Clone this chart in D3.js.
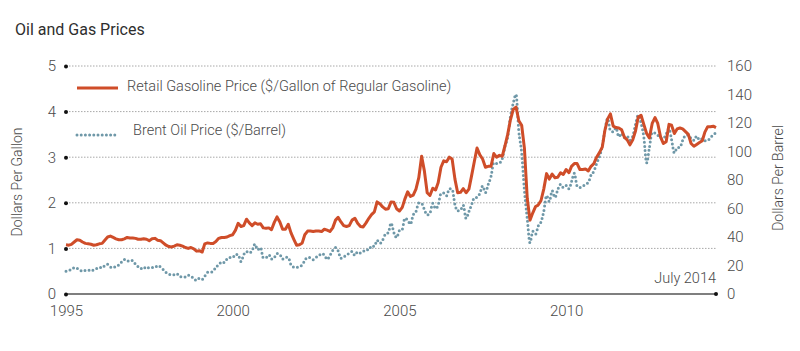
<!DOCTYPE html>
<html>
<head>
<meta charset="utf-8">
<script src="https://cdn.jsdelivr.net/npm/d3@7"></script>
<style>
  body { margin: 0; background: #fff; }
  svg text { font-family: Roboto, "Liberation Sans", sans-serif; fill: #4a4a4a; font-weight: 300; }
</style>
</head>
<body>
<div id="chart"></div>
<script>
// Monthly values, Jan 1995 .. Jul 2014
const gasPrice = [
  1.08,1.07,1.09,1.14,1.19,1.18,1.14,1.11,1.10,1.09,1.07,1.08,
  1.10,1.11,1.18,1.25,1.27,1.24,1.21,1.19,1.19,1.21,1.24,1.23,
  1.23,1.22,1.20,1.20,1.21,1.20,1.17,1.21,1.22,1.18,1.17,1.12,
  1.07,1.04,1.03,1.05,1.08,1.07,1.05,1.02,1.00,1.02,0.99,0.94,
  0.95,0.92,1.10,1.12,1.11,1.11,1.15,1.22,1.24,1.24,1.25,1.28,
  1.30,1.40,1.55,1.48,1.50,1.64,1.56,1.50,1.56,1.53,1.54,1.45,
  1.44,1.45,1.41,1.57,1.69,1.58,1.42,1.42,1.53,1.34,1.20,1.07,
  1.08,1.12,1.30,1.38,1.38,1.37,1.38,1.38,1.37,1.42,1.40,1.37,
  1.45,1.62,1.68,1.58,1.50,1.48,1.50,1.62,1.66,1.55,1.48,1.47,
  1.56,1.66,1.74,1.80,2.02,1.98,1.91,1.86,1.87,2.02,2.01,1.87,
  1.82,1.90,2.08,2.24,2.14,2.17,2.30,2.55,3.02,2.70,2.22,2.16,
  2.32,2.28,2.44,2.78,2.92,2.90,3.00,2.96,2.52,2.22,2.23,2.31,
  2.22,2.30,2.58,2.90,3.20,3.05,2.96,2.78,2.80,2.80,3.08,3.00,
  3.04,3.02,3.24,3.50,3.82,4.05,4.10,3.80,3.70,3.20,2.10,1.62,
  1.78,1.92,1.95,2.05,2.30,2.64,2.52,2.63,2.55,2.56,2.66,2.62,
  2.73,2.66,2.80,2.86,2.86,2.73,2.73,2.74,2.70,2.80,2.86,3.00,
  3.10,3.22,3.58,3.84,3.95,3.68,3.65,3.64,3.60,3.44,3.38,3.27,
  3.38,3.58,3.88,3.92,3.72,3.52,3.42,3.74,3.87,3.74,3.44,3.30,
  3.34,3.72,3.70,3.52,3.62,3.64,3.62,3.56,3.50,3.30,3.24,3.28,
  3.32,3.36,3.55,3.67,3.67,3.68,3.65
];

const brentPrice = [
  16.0,16.8,16.9,18.5,18.0,17.0,15.9,16.5,16.8,16.0,17.0,17.9,
  18.8,18.2,20.0,20.8,19.0,18.4,19.6,20.4,22.5,24.2,23.0,23.8,
  23.4,20.8,19.2,17.8,19.0,17.6,18.6,18.6,18.6,20.0,19.0,17.2,
  15.2,14.0,13.4,13.6,14.2,12.1,12.0,11.9,13.2,12.6,10.8,9.4,
  11.0,10.3,12.5,15.2,15.3,15.8,19.0,20.3,22.5,22.0,24.6,25.6,
  25.5,27.8,27.5,22.8,27.6,29.8,28.7,30.5,35.0,31.0,32.6,25.5,
  25.6,27.5,24.5,25.6,28.5,27.8,24.6,25.8,25.6,20.5,18.9,18.6,
  19.4,20.3,23.7,25.7,25.4,24.1,25.7,26.6,28.4,27.5,24.3,27.0,
  30.5,32.6,30.3,25.0,25.8,27.6,28.4,29.8,27.1,29.6,28.8,29.8,
  31.2,30.9,33.8,33.4,37.6,35.5,37.9,42.1,43.0,49.8,43.1,39.6,
  44.5,45.5,53.1,51.9,49.0,55.6,57.9,63.9,63.5,59.3,55.5,56.8,
  63.6,59.9,62.3,70.4,70.8,68.9,73.9,73.6,62.8,58.4,58.9,62.3,
  53.0,57.8,62.4,67.5,67.9,70.6,75.8,71.2,77.0,82.5,92.1,91.5,
  91.9,94.8,103.3,110.2,124.6,134.0,140.0,114.0,99.0,72.8,53.0,36.0,
  44.0,42.0,47.7,50.6,58.0,69.1,64.9,72.5,67.7,73.2,77.0,74.7,
  76.2,73.8,78.8,84.8,75.9,74.8,75.6,77.1,78.2,83.5,86.1,91.5,
  96.5,103.7,114.6,123.3,114.5,113.9,116.7,110.4,112.8,109.6,110.8,107.9,
  110.7,119.3,125.5,119.8,110.3,92.0,102.6,113.4,113.0,111.5,109.5,109.2,
  112.3,116.1,108.5,99.0,102.6,102.9,107.9,111.3,111.6,109.1,107.8,110.8,
  108.1,108.9,107.5,107.8,109.7,111.9,113.0
];

const gallonTicks = [0, 1, 2, 3, 4, 5];
const barrelTicks = [0, 20, 40, 60, 80, 100, 120, 140, 160];
const yearTicks = [1995, 2000, 2005, 2010];
const legendLabels = [
  'Retail Gasoline Price ($/Gallon of Regular Gasoline)',
  'Brent Oil Price ($/Barrel)'
];

const months = d3.timeMonth.range(new Date(1995, 0, 1), new Date(2014, 7, 1));

const width = 800;
const height = 351;
const margin = { top: 66, right: 84, bottom: 57, left: 66 };
const innerW = width - margin.left - margin.right;
const innerH = height - margin.top - margin.bottom;

const gasColor = '#cf4d29';
const oilColor = '#6f98a8';

const svg = d3.select('#chart')
  .append('svg')
  .attr('width', width)
  .attr('height', height);

// Title
svg.append('text')
  .attr('x', 15)
  .attr('y', 35)
  .style('font-size', '16px')
  .style('font-weight', 400)
  .style('fill', '#2e2e2e')
  .text('Oil and Gas Prices');

const g = svg.append('g')
  .attr('transform', `translate(${margin.left},${margin.top})`);

// Scales
const x = d3.scaleTime()
  .domain([new Date(1995, 0, 1), new Date(2014, 6, 1)])
  .range([0, innerW]);

const yGal = d3.scaleLinear().domain([0, 5]).range([innerH, 0]);
const yBbl = d3.scaleLinear().domain([0, 160]).range([innerH, 0]);

// Gridlines
g.selectAll('.grid')
  .data(gallonTicks.filter(d => d > 0))
  .enter().append('line')
  .attr('x1', 0)
  .attr('x2', innerW + 1)
  .attr('y1', d => yGal(d))
  .attr('y2', d => yGal(d))
  .attr('stroke', '#a8a8a8')
  .attr('stroke-width', 1)
  .attr('stroke-dasharray', '1.5,1.5');

// Baseline
g.append('line')
  .attr('x1', 0)
  .attr('x2', innerW)
  .attr('y1', innerH)
  .attr('y2', innerH)
  .attr('stroke', '#555')
  .attr('stroke-width', 1.5);

g.append('circle')
  .attr('cx', innerW)
  .attr('cy', innerH)
  .attr('r', 2)
  .attr('fill', '#111');

const styleAxisText = sel => sel.selectAll('text')
  .style('font-size', '15px')
  .style('font-family', 'Roboto, sans-serif')
  .style('font-weight', 300)
  .attr('fill', '#4a4a4a');

// Left axis
const leftAxis = g.append('g')
  .call(d3.axisLeft(yGal).tickValues(gallonTicks).tickFormat(d3.format('d')).tickSize(0).tickPadding(10));
leftAxis.select('.domain').remove();
styleAxisText(leftAxis);
leftAxis.selectAll('.tick').append('circle')
  .attr('r', 2)
  .attr('fill', '#111');

// Right axis
const rightAxis = g.append('g')
  .attr('transform', `translate(${innerW},0)`)
  .call(d3.axisRight(yBbl).tickValues(barrelTicks).tickFormat(d3.format('d')).tickSize(0).tickPadding(11));
rightAxis.select('.domain').remove();
styleAxisText(rightAxis);

// Bottom axis
const bottomAxis = g.append('g')
  .attr('transform', `translate(0,${innerH})`)
  .call(d3.axisBottom(x)
    .tickValues(yearTicks.map(yr => new Date(yr, 0, 1)))
    .tickFormat(d3.timeFormat('%Y'))
    .tickSize(0)
    .tickPadding(11));
bottomAxis.select('.domain').remove();
styleAxisText(bottomAxis);

// Axis titles
svg.append('text')
  .attr('transform', `translate(22,${margin.top + innerH / 2 + 2}) rotate(-90)`)
  .attr('text-anchor', 'middle')
  .style('font-size', '14px')
  .text('Dollars Per Gallon');

svg.append('text')
  .attr('transform', `translate(783,${margin.top + innerH / 2 - 2}) rotate(-90)`)
  .attr('text-anchor', 'middle')
  .style('font-size', '14px')
  .text('Dollars Per Barrel');

// Date note
g.append('text')
  .attr('x', innerW)
  .attr('y', innerH - 11)
  .attr('text-anchor', 'end')
  .style('font-size', '14.5px')
  .text('July 2014');

// Lines
const oilLine = d3.line()
  .x((d, i) => x(months[i]))
  .y(d => yBbl(d))
  .curve(d3.curveMonotoneX);

const gasLine = d3.line()
  .x((d, i) => x(months[i]))
  .y(d => yGal(d))
  .curve(d3.curveLinear);

g.append('path')
  .datum(brentPrice)
  .attr('d', oilLine)
  .attr('fill', 'none')
  .attr('stroke', oilColor)
  .attr('stroke-width', 3)
  .attr('stroke-linecap', 'round')
  .attr('stroke-dasharray', '0,4.2');

g.append('path')
  .datum(gasPrice)
  .attr('d', gasLine)
  .attr('fill', 'none')
  .attr('stroke', gasColor)
  .attr('stroke-width', 3)
  .attr('stroke-linejoin', 'round');

// Legend
const legend = svg.append('g');
legend.append('line')
  .attr('x1', 77).attr('x2', 118)
  .attr('y1', 88).attr('y2', 88)
  .attr('stroke', gasColor)
  .attr('stroke-width', 3);
legend.append('text')
  .attr('x', 127).attr('y', 86)
  .attr('dy', '0.35em')
  .style('font-size', '14.5px')
  .text(legendLabels[0]);

legend.append('line')
  .attr('x1', 77).attr('x2', 118)
  .attr('y1', 135).attr('y2', 135)
  .attr('stroke', oilColor)
  .attr('stroke-width', 3)
  .attr('stroke-linecap', 'round')
  .attr('stroke-dasharray', '0,4.2');
legend.append('text')
  .attr('x', 133).attr('y', 130)
  .attr('dy', '0.35em')
  .style('font-size', '14.5px')
  .text(legendLabels[1]);
</script>
</body>
</html>
